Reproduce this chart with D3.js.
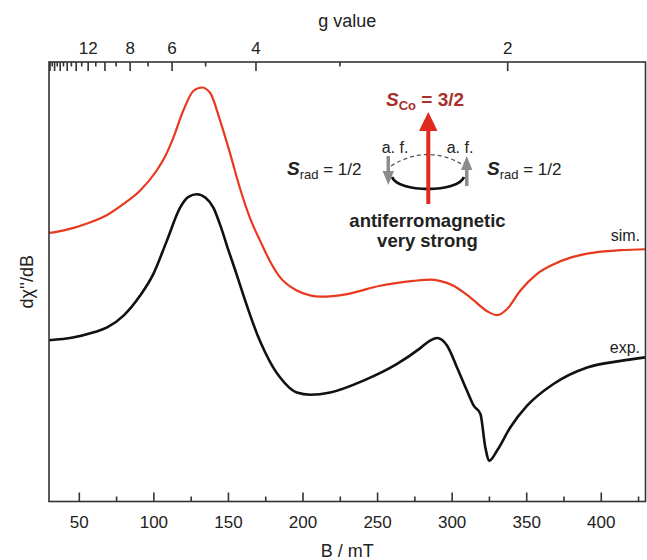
<!DOCTYPE html>
<html>
<head>
<meta charset="utf-8">
<script src="https://cdn.jsdelivr.net/npm/d3@7"></script>
<style>
  body { margin: 0; background: #fff; }
  text { font-family: "Liberation Sans", Arial, sans-serif; }
</style>
</head>
<body>
<script>
// magnetic field (mT) and intensity (arb. units)
const simB = [30, 40, 46, 55, 69, 80, 91, 102, 108, 113.4, 120, 126.8, 132.5, 138, 144.8, 151.5, 158.2, 165, 171.6, 178, 185, 196.2, 205, 212, 230, 252, 274.5, 285.7, 292, 301.3, 312.6, 323.8, 330.5, 337.2, 346.1, 357.3, 368.5, 379.7, 390.9, 402.1, 413.4, 430];
const simY = [61.1, 61.7, 62.2, 63.2, 65.2, 67.7, 70.7, 75.2, 78.6, 82.8, 88.9, 93.4, 94.2, 93.0, 86.6, 79.1, 71.1, 64.3, 59.3, 54.8, 51.0, 48.0, 46.9, 46.6, 47.2, 49.1, 50.2, 50.5, 50.2, 49.1, 46.4, 43.3, 42.4, 43.8, 48.0, 51.8, 54.0, 55.5, 56.4, 56.9, 57.2, 57.4];

const expB = [30, 46, 60, 69, 80, 91, 100, 109, 118, 123.5, 129.1, 135, 140.3, 145, 150, 155, 160, 165, 170, 175, 180, 185, 196.2, 205.2, 218.6, 240.9, 263.4, 279, 285, 290.2, 296.9, 303.6, 310.3, 314.8, 319.3, 322.6, 325.3, 330.5, 339.4, 350.6, 368.5, 390.9, 413.4, 430];
const expY = [36.7, 37.3, 38.5, 39.6, 42.3, 46.8, 51.8, 59.3, 66.9, 69.3, 69.9, 69.1, 66.8, 62.7, 57.5, 52.5, 47.3, 42.3, 37.7, 33.9, 30.7, 28.2, 24.8, 24.3, 24.8, 27.5, 31.3, 34.9, 36.5, 37.2, 35.5, 30.5, 25.2, 21.8, 19.9, 12.3, 9.3, 11.6, 16.9, 21.8, 26.8, 30.5, 32.0, 32.8];

const bTicksMajor = [50, 100, 150, 200, 250, 300, 350, 400];
const bTicksMinor = [75, 125, 175, 225, 275, 325, 375, 425];
const gTicks = d3.range(2, 23);           // integer g values on the top axis
const gLabels = [12, 8, 6, 4, 2];
const mwFreq = 9.45;                      // GHz, B(mT) = 71.4477 * nu / g

const width = 647, height = 560;
const margin = { left: 49, right: 1.5, top: 62, bottom: 58.5 };
const plotW = width - margin.left - margin.right;
const plotH = height - margin.top - margin.bottom;

const svg = d3.select("body").append("svg")
    .attr("width", width)
    .attr("height", height);

const x = d3.scaleLinear().domain([30, 430]).range([margin.left, margin.left + plotW]);
const y = d3.scaleLinear().domain([0, 100]).range([margin.top + plotH, margin.top]);
const gToB = g => 71.4477 * mwFreq / g;

const line = d3.line()
    .x(d => x(d[0]))
    .y(d => y(d[1]))
    .curve(d3.curveMonotoneX);

// curves
svg.append("path")
    .attr("d", line(d3.zip(simB, simY)))
    .attr("fill", "none")
    .attr("stroke", "#e8391f")
    .attr("stroke-width", 2.2);

svg.append("path")
    .attr("d", line(d3.zip(expB, expY)))
    .attr("fill", "none")
    .attr("stroke", "#111")
    .attr("stroke-width", 2.6)
    .attr("stroke-linejoin", "round");

// frame
svg.append("rect")
    .attr("x", margin.left)
    .attr("y", margin.top)
    .attr("width", plotW)
    .attr("height", plotH)
    .attr("fill", "none")
    .attr("stroke", "#333")
    .attr("stroke-width", 1.6);

// bottom axis (ticks inward)
const bottomAxis = svg.append("g").attr("transform", `translate(0,${margin.top + plotH})`);
bottomAxis.call(d3.axisBottom(x).tickValues(bTicksMajor).tickSizeInner(-9).tickSizeOuter(0).tickPadding(14))
    .call(g => g.select(".domain").remove());
bottomAxis.selectAll(".tick line").attr("stroke", "#333").attr("stroke-width", 1.6);
bottomAxis.selectAll(".tick text").attr("font-size", 17).attr("fill", "#222")
    .attr("font-family", "Liberation Sans, Arial, sans-serif");
bottomAxis.append("g").call(d3.axisBottom(x).tickValues(bTicksMinor).tickSizeInner(-5).tickSizeOuter(0).tickFormat(""))
    .call(g => g.select(".domain").remove())
    .selectAll("line").attr("stroke", "#333").attr("stroke-width", 1.6);

// top axis: g values
const gAxis = svg.append("g");
gAxis.selectAll("line")
    .data(gTicks.filter(g => gToB(g) >= 30 && gToB(g) <= 430))
    .join("line")
    .attr("x1", g => x(gToB(g)))
    .attr("x2", g => x(gToB(g)))
    .attr("y1", margin.top)
    .attr("y2", g => margin.top + (g % 2 === 0 ? 9 : 4.5))
    .attr("stroke", "#333")
    .attr("stroke-width", 1.6);
gAxis.selectAll("text")
    .data(gLabels)
    .join("text")
    .attr("x", g => x(gToB(g)))
    .attr("y", 54)
    .attr("text-anchor", "middle")
    .attr("font-size", 17)
    .attr("fill", "#222")
    .text(d => d);

// axis titles
svg.append("text")
    .attr("x", x(230)).attr("y", 27)
    .attr("text-anchor", "middle").attr("font-size", 18).attr("fill", "#222")
    .text("g value");
svg.append("text")
    .attr("x", x(230)).attr("y", 557)
    .attr("text-anchor", "middle").attr("font-size", 18).attr("fill", "#222")
    .text("B / mT");
svg.append("text")
    .attr("transform", `translate(33,${margin.top + plotH / 2}) rotate(-90)`)
    .attr("text-anchor", "middle").attr("font-size", 18).attr("fill", "#222")
    .text("d\u03c7''/dB");

// series labels
svg.append("text").attr("x", 640).attr("y", 241).attr("text-anchor", "end")
    .attr("font-size", 16).attr("fill", "#222").text("sim.");
svg.append("text").attr("x", 640).attr("y", 353).attr("text-anchor", "end")
    .attr("font-size", 16).attr("fill", "#222").text("exp.");

// spin coupling scheme
const scheme = svg.append("g");
scheme.append("path")
    .attr("d", "M391,166 Q428,143 465,166")
    .attr("fill", "none").attr("stroke", "#555").attr("stroke-width", 1.3)
    .attr("stroke-dasharray", "4,3");
scheme.append("path")
    .attr("d", "M392,177 C398,193 458,193 464,177")
    .attr("fill", "none").attr("stroke", "#111").attr("stroke-width", 2.8);

// central Co arrow
scheme.append("rect").attr("x", 426.3).attr("y", 128).attr("width", 4).attr("height", 76).attr("fill", "#e02a1e");
scheme.append("path").attr("d", "M428.3,112 L437.5,131 L419,131 Z").attr("fill", "#e02a1e");

// radical arrows
scheme.append("rect").attr("x", 386.5).attr("y", 156).attr("width", 3.5).attr("height", 18).attr("fill", "#8c8c8c");
scheme.append("path").attr("d", "M388.3,185 L394,171 L382.6,171 Z").attr("fill", "#8c8c8c");
scheme.append("rect").attr("x", 465).attr("y", 168).attr("width", 3.5).attr("height", 18).attr("fill", "#8c8c8c");
scheme.append("path").attr("d", "M466.7,156 L472.4,170 L461,170 Z").attr("fill", "#8c8c8c");

const sco = scheme.append("text").attr("x", 386).attr("y", 106)
    .attr("font-size", 19).attr("font-weight", "bold").attr("fill", "#a8302b");
sco.append("tspan").attr("font-style", "italic").text("S");
sco.append("tspan").attr("font-size", 13).attr("dy", 4).text("Co");
sco.append("tspan").attr("dy", -4).text(" = 3/2");

scheme.append("text").attr("x", 395).attr("y", 153).attr("text-anchor", "middle")
    .attr("font-size", 16).attr("fill", "#222").text("a. f.");
scheme.append("text").attr("x", 460).attr("y", 153).attr("text-anchor", "middle")
    .attr("font-size", 16).attr("fill", "#222").text("a. f.");

[287, 487].forEach(px => {
    const t = scheme.append("text").attr("x", px).attr("y", 175)
        .attr("font-size", 17).attr("fill", "#222");
    t.append("tspan").attr("font-style", "italic").attr("font-weight", "bold").attr("font-size", 19).text("S");
    t.append("tspan").attr("font-size", 13).attr("dy", 4).text("rad");
    t.append("tspan").attr("dy", -4).text(" = 1/2");
});

scheme.append("text").attr("x", 427.5).attr("y", 227).attr("text-anchor", "middle")
    .attr("font-size", 18.5).attr("font-weight", "bold").attr("fill", "#222").text("antiferromagnetic");
scheme.append("text").attr("x", 427.5).attr("y", 247).attr("text-anchor", "middle")
    .attr("font-size", 18.5).attr("font-weight", "bold").attr("fill", "#222").text("very strong");
</script>
</body>
</html>
